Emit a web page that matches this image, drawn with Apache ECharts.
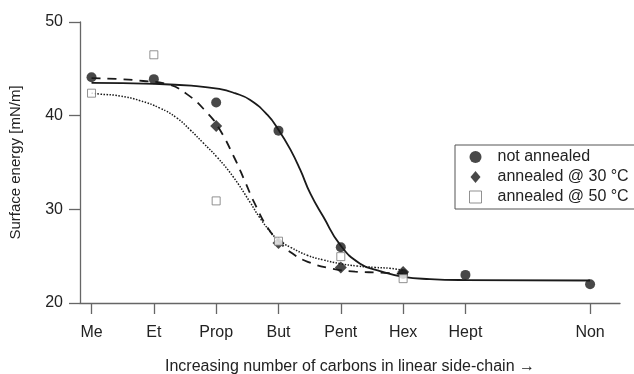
<!DOCTYPE html>
<html>
<head>
<meta charset="utf-8">
<script src="https://cdn.jsdelivr.net/npm/echarts@6/dist/echarts.min.js"></script>
<style>
  html, body { margin: 0; padding: 0; background: #fff; }
  #chart { width: 634px; height: 374px; }
</style>
</head>
<body>
<div id="chart"></div>
<script>
// x positions of the side chains (Oct is not measured, so Non sits at 9)
var chainPos = [1, 2, 3, 4, 5, 6, 7, 9];
var chainNames = ["Me", "Et", "Prop", "But", "Pent", "Hex", "Hept", "Non"];

// measured points
var notAnnealedX = [1, 2, 3, 4, 5, 6, 7, 9];
var notAnnealedY = [44.1, 43.9, 41.4, 38.4, 25.95, 23.1, 23.0, 22.0];
var anneal30X = [3, 4, 5, 6];
var anneal30Y = [38.9, 26.4, 23.8, 23.3];
var anneal50X = [1, 2, 3, 4, 5, 6];
var anneal50Y = [42.4, 46.5, 30.9, 26.6, 24.95, 22.6];

// fitted curves
var fitNotX = [1, 2, 2.6, 3.05, 3.3, 3.54, 3.82, 4.01, 4.19, 4.35, 4.51, 4.72, 4.99, 5.31, 5.63, 6, 6.43, 7, 9];
var fitNotY = [43.5, 43.4, 43.2, 42.85, 42.4, 41.7, 40.1, 38.4, 36.4, 34.2, 31.7, 29.2, 26.2, 24.2, 23.4, 22.8, 22.55, 22.45, 22.4];
var fit30X = [1, 1.46, 1.83, 2.2, 2.53, 2.87, 3.05, 3.3, 3.46, 3.62, 3.82, 4.03, 4.22, 4.47, 4.84, 5.23, 5.63, 6];
var fit30Y = [44.0, 43.9, 43.7, 43.4, 42.3, 40.2, 38.6, 35.4, 33.0, 30.6, 28.1, 26.4, 25.3, 24.4, 23.7, 23.35, 23.25, 23.1];
var fit50X = [1, 1.14, 1.46, 1.78, 2.1, 2.37, 2.58, 2.79, 3.01, 3.27, 3.54, 3.7, 3.87, 4.0, 4.19, 4.46, 4.72, 4.99, 5.26, 5.55, 5.79, 6];
var fit50Y = [42.4, 42.3, 42.1, 41.6, 40.8, 39.75, 38.5, 37.1, 35.6, 33.5, 30.8, 29.1, 27.6, 26.7, 25.96, 25.1, 24.6, 24.2, 23.95, 23.8, 23.7, 23.5];

function pairs(xs, ys) {
  var out = [];
  for (var i = 0; i < xs.length; i++) out.push([xs[i], ys[i]]);
  return out;
}

var font = "'Liberation Sans', Arial, sans-serif";
var ink = "#1a1a1a";
var axisGray = "#666666";

var chart = echarts.init(document.getElementById("chart"));
chart.setOption({
  animation: false,
  backgroundColor: "#ffffff",
  grid: { left: 80, right: 14, top: 22, bottom: 71, outerBoundsMode: "none" },
  legend: {
    left: 455,
    top: 145,
    orient: "vertical",
    padding: [4, 24, 4, 14],
    itemWidth: 12,
    itemHeight: 12,
    itemGap: 4,
    borderColor: "#555",
    borderWidth: 1,
    textStyle: { fontFamily: font, fontSize: 16, color: "#222", lineHeight: 16, padding: [0, 0, 0, 11] },
    data: [
      { name: "not annealed", icon: "circle", itemStyle: { color: ink } },
      { name: "annealed @ 30 °C", icon: "path://M5,0 L10,6 L5,12 L0,6 Z", itemStyle: { color: ink } },
      { name: "annealed @ 50 °C", icon: "path://M1,1 L11,1 L11,11 L1,11 Z", itemStyle: { color: "#fff", borderColor: "#777", borderWidth: 1 } }
    ]
  },
  xAxis: {
    type: "value",
    min: 0.815,
    max: 9.48,
    name: "Increasing number of carbons in linear side-chain →",
    nameLocation: "middle",
    nameGap: 56,
    nameTextStyle: { fontFamily: font, fontSize: 16, color: "#222" },
    splitLine: { show: false },
    axisLine: { onZero: false, lineStyle: { color: axisGray, width: 1.3 } },
    axisTick: { show: true, length: 11, customValues: chainPos, lineStyle: { color: axisGray, width: 1.3 } },
    axisLabel: {
      customValues: chainPos,
      margin: 22,
      fontFamily: font,
      fontSize: 16,
      color: "#222",
      formatter: function (v) {
        var i = chainPos.indexOf(Math.round(v));
        return i >= 0 ? chainNames[i] : "";
      }
    }
  },
  yAxis: {
    type: "value",
    min: 20,
    max: 50,
    interval: 10,
    name: "Surface energy [mN/m]",
    nameLocation: "middle",
    nameGap: 57,
    nameTextStyle: { fontFamily: font, fontSize: 15, color: "#222" },
    splitLine: { show: false },
    axisLine: { show: true, onZero: false, lineStyle: { color: axisGray, width: 1.3 } },
    axisTick: { show: true, inside: false, length: 11, lineStyle: { color: axisGray, width: 1.3 } },
    axisLabel: { margin: 17, fontFamily: font, fontSize: 16, color: "#222" }
  },
  series: [
    {
      name: "fit not annealed",
      type: "line",
      data: pairs(fitNotX, fitNotY),
      smooth: 0.5,
      showSymbol: false,
      silent: true,
      lineStyle: { color: ink, width: 1.8 },
      z: 1
    },
    {
      name: "fit 30",
      type: "line",
      data: pairs(fit30X, fit30Y),
      smooth: 0.5,
      showSymbol: false,
      silent: true,
      lineStyle: { color: ink, width: 1.8, type: [9, 7] },
      z: 1
    },
    {
      name: "fit 50",
      type: "line",
      data: pairs(fit50X, fit50Y),
      smooth: 0.5,
      showSymbol: false,
      silent: true,
      lineStyle: { color: ink, width: 1.5, type: [1.5, 1.5] },
      z: 1
    },
    {
      name: "annealed @ 30 °C",
      type: "scatter",
      data: pairs(anneal30X, anneal30Y),
      symbol: "diamond",
      symbolSize: 12,
      itemStyle: { color: ink },
      z: 3
    },
    {
      name: "annealed @ 50 °C",
      type: "scatter",
      data: pairs(anneal50X, anneal50Y),
      symbol: "rect",
      symbolSize: 8,
      itemStyle: { color: "#ffffff", borderColor: "#777", borderWidth: 1 },
      z: 4
    },
    {
      name: "not annealed",
      type: "scatter",
      data: pairs(notAnnealedX, notAnnealedY),
      symbol: "circle",
      symbolSize: 10,
      itemStyle: { color: ink },
      z: 2
    }
  ]
});
</script>
</body>
</html>
